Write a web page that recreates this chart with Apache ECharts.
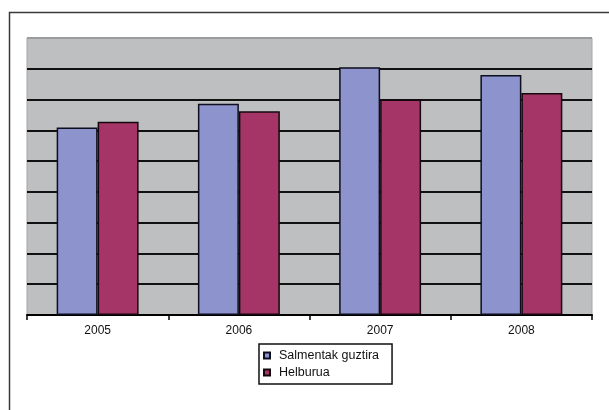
<!DOCTYPE html>
<html>
<head>
<meta charset="utf-8">
<script src="https://cdn.jsdelivr.net/npm/echarts@6/dist/echarts.min.js"></script>
<style>
  html, body { margin: 0; padding: 0; background: #ffffff; }
  #chart { width: 609px; height: 410px; }
</style>
</head>
<body>
<div id="chart"></div>
<script>
// Years on the category axis
const years = ['2005', '2006', '2007', '2008'];
// Total sales per year
const salmentak = [6.09, 6.86, 8.05, 7.80];
// Target per year
const helburua = [6.28, 6.62, 7.00, 7.21];
// Series names shown in the legend
const seriesNames = ['Salmentak guztira', 'Helburua'];

const FONT = '"Liberation Sans", Arial, sans-serif';

const chart = echarts.init(document.getElementById('chart'), null, { renderer: 'canvas' });

// Horizontal grid: dark lines inside, the top edge stays light
const splitColors = ['#111111', '#111111', '#111111', '#111111', '#111111',
                     '#111111', '#111111', '#111111', '#111111', '#9a9c9e'];

chart.setOption({
  animation: false,
  backgroundColor: '#ffffff',
  textStyle: { fontFamily: FONT },
  graphic: [{
    type: 'rect',
    left: 7, top: 10,
    shape: { width: 640, height: 440 },
    style: { fill: 'none', stroke: '#3a3a3a', lineWidth: 1.5 },
    z: 0
  }],
  grid: {
    left: 27, top: 38, width: 565, height: 277,
    show: true,
    backgroundColor: '#bdbfc1',
    borderColor: '#a4a6a8',
    borderWidth: 1
  },
  legend: {
    data: seriesNames,
    orient: 'vertical',
    left: 259, top: 344,
    itemWidth: 6, itemHeight: 6,
    itemGap: 4,
    padding: [5, 13, 5, 4],
    backgroundColor: '#ffffff',
    borderColor: '#111111',
    borderWidth: 1.5,
    textStyle: { fontFamily: FONT, fontSize: 12.5, color: '#111111', padding: [0, 0, 0, 4] },
    icon: 'rect'
  },
  xAxis: {
    type: 'category',
    data: years,
    boundaryGap: true,
    axisLine: { show: true, lineStyle: { color: '#000000', width: 2 } },
    axisTick: { show: true, length: 5, lineStyle: { color: '#000000', width: 1.5 } },
    axisLabel: { fontFamily: FONT, fontSize: 12, color: '#111111', margin: 10 },
    splitLine: { show: false }
  },
  yAxis: {
    type: 'value',
    min: 0, max: 9, interval: 1,
    axisLine: { show: false },
    axisTick: { show: false },
    axisLabel: { show: false },
    splitLine: { show: true, lineStyle: { color: splitColors, width: 2 } }
  },
  series: [
    {
      name: seriesNames[0],
      type: 'bar',
      data: salmentak,
      barCategoryGap: '42%',
      barGap: '0%',
      itemStyle: { color: '#8c93cd', borderColor: '#0e0e1e', borderWidth: 1.5 }
    },
    {
      name: seriesNames[1],
      type: 'bar',
      data: helburua,
      barCategoryGap: '42%',
      barGap: '0%',
      itemStyle: { color: '#a43566', borderColor: '#14080c', borderWidth: 1.5 }
    }
  ]
});
</script>
</body>
</html>
